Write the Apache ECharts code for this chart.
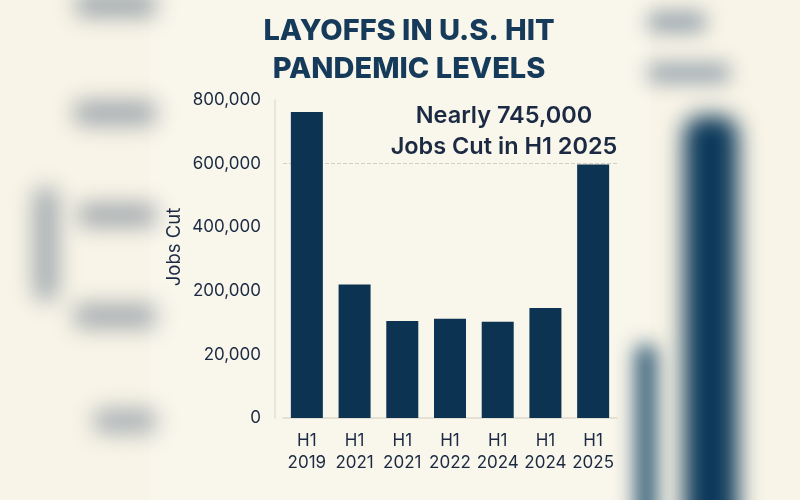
<!DOCTYPE html>
<html><head><meta charset="utf-8">
<script src="https://cdn.jsdelivr.net/npm/echarts@6/dist/echarts.min.js"></script>
<style>html,body{margin:0;padding:0;background:#f8f4e7;}#c{width:800px;height:500px;}</style>
</head><body><div id="c"></div>
<script>
const categories = ['H1\n2019','H1\n2021','H1\n2021','H1\n2022','H1\n2024','H1\n2024','H1\n2025'];
const jobsCut = [770000, 336000, 244000, 250000, 242000, 277000, 638000];
const tickLabels = ['0','20,000','200,000','400,000','600,000','800,000'];
const refLineValue = 640000;

const navy = '#0c3452';
const ink = '#1b2a42';

function blob(x, y, w, h, color, blur) {
  return { type: 'rect', silent: true, shape: { x: x - 2000, y: y, width: w, height: h, r: Math.min(w, h) / 3 },
    style: { fill: color, shadowColor: color, shadowBlur: blur, shadowOffsetX: 2000, shadowOffsetY: 0 } };
}

const chart = echarts.init(document.getElementById('c'), null, { renderer: 'canvas' });
chart.setOption({
  backgroundColor: '#f8f4e7',
  graphic: [
    { type: 'rect', z: -10, silent: true, shape: { x: 150, y: 0, width: 500, height: 500 }, style: { fill: '#f9f6eb' } },
    blob(76, -6, 80, 22, '#98a1a8', 22),
    blob(74, 101, 82, 24, '#a1a8ae', 22),
    blob(78, 204, 78, 22, '#9ea5ab', 22),
    blob(74, 304, 82, 24, '#a4abb0', 22),
    blob(94, 409, 62, 24, '#a8afb4', 22),
    blob(34, 188, 24, 112, '#a2aab0', 22),
    blob(648, 12, 58, 20, '#95a2ac', 20),
    blob(648, 63, 82, 20, '#9ba7b0', 20),
    blob(684, 116, 54, 420, '#0d3a5b', 22),
    blob(636, 345, 20, 200, '#25526f', 20)
  ],
  title: [
    { text: 'LAYOFFS IN U.S. HIT\nPANDEMIC LEVELS', left: 404, top: 7, textAlign: 'center',
      textStyle: { fontFamily: 'Inter', fontWeight: 800, fontSize: 29, lineHeight: 38, color: '#163a5a' } },
    { text: 'Nearly 745,000\nJobs Cut in H1 2025', left: 499, top: 95, textAlign: 'center',
      textStyle: { fontFamily: 'Inter', fontWeight: 600, fontSize: 23.5, lineHeight: 31, color: ink } }
  ],
  grid: { left: 283, right: 183, top: 100, bottom: 82 },
  xAxis: {
    type: 'category', data: categories,
    axisLine: { show: true, lineStyle: { color: '#ddd9cb', width: 1.5 } },
    axisTick: { show: false },
    axisLabel: { interval: 0, color: ink, fontFamily: 'Inter', fontSize: 17, lineHeight: 22, margin: 12 }
  },
  yAxis: {
    type: 'value', min: 0, max: 800000, interval: 160000, offset: 8,
    name: 'Jobs Cut', nameLocation: 'middle', nameRotate: 90, nameGap: 91,
    nameTextStyle: { color: ink, fontFamily: 'Inter', fontSize: 18.5, padding: [0, 0, 0, 24] },
    axisLine: { show: true, lineStyle: { color: '#e3dfd2', width: 1.5 } },
    axisTick: { show: false },
    splitLine: { show: false },
    axisLabel: { color: ink, fontFamily: 'Inter', fontSize: 17, margin: 14,
      formatter: (v) => tickLabels[Math.round(v / 160000)] }
  },
  series: [{
    type: 'bar', data: jobsCut, barWidth: 32, itemStyle: { color: navy },
    markLine: { silent: true, symbol: 'none', label: { show: false }, z: 1,
      lineStyle: { type: 'dashed', color: '#d2cec0', width: 1 },
      data: [{ yAxis: refLineValue }] }
  }]
});
</script></body></html>
